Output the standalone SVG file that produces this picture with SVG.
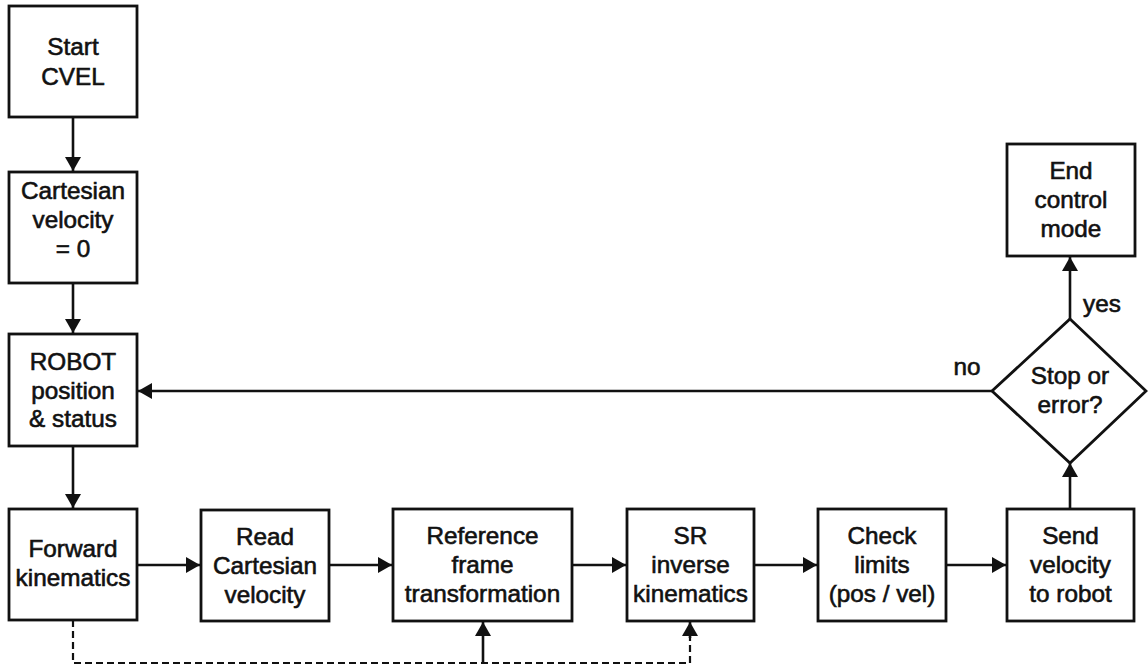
<svg xmlns="http://www.w3.org/2000/svg" width="1148" height="667" viewBox="0 0 1148 667">
  <style>
    .box { fill: #ffffff; stroke: #111111; stroke-width: 2.8; }
    .lbl { font-family: "Liberation Sans", Arial, sans-serif; font-size: 24.3px; fill: #111111; stroke: #111111; stroke-width: 0.6; text-anchor: middle; }
    .edge { fill: none; stroke: #111111; stroke-width: 2.6; }
    .dash { fill: none; stroke: #111111; stroke-width: 2.2; stroke-dasharray: 7 4; }
  </style>
  <defs>
    <marker id="arrow" markerUnits="userSpaceOnUse" markerWidth="15" markerHeight="16" refX="14" refY="8" orient="auto">
      <path d="M0,0 L14,8 L0,16 z" fill="#111111"/>
    </marker>
  </defs>
  <rect width="1148" height="667" fill="#ffffff"/>

  <!-- connectors -->
  <g id="connectors">
    <path class="edge" d="M73,117 V171" marker-end="url(#arrow)"/>
    <path class="edge" d="M73,283 V333" marker-end="url(#arrow)"/>
    <path class="edge" d="M73,446 V508" marker-end="url(#arrow)"/>
    <path class="edge" d="M137,565 H200" marker-end="url(#arrow)"/>
    <path class="edge" d="M329,565 H392" marker-end="url(#arrow)"/>
    <path class="edge" d="M572,565 H626" marker-end="url(#arrow)"/>
    <path class="edge" d="M754,565 H817" marker-end="url(#arrow)"/>
    <path class="edge" d="M946,565 H1006" marker-end="url(#arrow)"/>
    <path class="edge" d="M1070,509 V463" marker-end="url(#arrow)"/>
    <path class="edge" d="M1070,319 V257" marker-end="url(#arrow)"/>
    <path class="edge" d="M992,391 H138" marker-end="url(#arrow)"/>
    <path class="dash" d="M73,620 V663 H690 V637"/>
    <path class="edge" d="M690,638 V622" marker-end="url(#arrow)"/>
    <path class="edge" d="M483,663 V622" marker-end="url(#arrow)"/>
    <text class="lbl" x="1102" y="312">yes</text>
    <text class="lbl" x="967" y="375">no</text>
  </g>

  <g id="start">
    <rect class="box" x="9" y="6" width="128" height="111"/>
    <text class="lbl" x="73" y="55">Start</text>
    <text class="lbl" x="73" y="85">CVEL</text>
  </g>

  <g id="cartesian-zero">
    <rect class="box" x="9" y="172" width="128" height="111"/>
    <text class="lbl" x="73" y="199">Cartesian</text>
    <text class="lbl" x="73" y="228">velocity</text>
    <text class="lbl" x="73" y="257">= 0</text>
  </g>

  <g id="robot-status">
    <rect class="box" x="9" y="334" width="128" height="112"/>
    <text class="lbl" x="73" y="370">ROBOT</text>
    <text class="lbl" x="73" y="398.5">position</text>
    <text class="lbl" x="73" y="427">&amp; status</text>
  </g>

  <g id="forward-kinematics">
    <rect class="box" x="9" y="509" width="128" height="111"/>
    <text class="lbl" x="73" y="557">Forward</text>
    <text class="lbl" x="73" y="586">kinematics</text>
  </g>

  <g id="read-velocity">
    <rect class="box" x="201" y="510" width="128" height="111"/>
    <text class="lbl" x="265" y="545">Read</text>
    <text class="lbl" x="265" y="574">Cartesian</text>
    <text class="lbl" x="265" y="603">velocity</text>
  </g>

  <g id="frame-transform">
    <rect class="box" x="393" y="509" width="179" height="112"/>
    <text class="lbl" x="482.5" y="544">Reference</text>
    <text class="lbl" x="482.5" y="573">frame</text>
    <text class="lbl" x="482.5" y="602">transformation</text>
  </g>

  <g id="inverse-kinematics">
    <rect class="box" x="627" y="509" width="127" height="112"/>
    <text class="lbl" x="690.5" y="544">SR</text>
    <text class="lbl" x="690.5" y="573">inverse</text>
    <text class="lbl" x="690.5" y="602">kinematics</text>
  </g>

  <g id="check-limits">
    <rect class="box" x="818" y="509" width="128" height="112"/>
    <text class="lbl" x="882" y="544">Check</text>
    <text class="lbl" x="882" y="573">limits</text>
    <text class="lbl" x="882" y="602">(pos / vel)</text>
  </g>

  <g id="send-velocity">
    <rect class="box" x="1007" y="509" width="127" height="112"/>
    <text class="lbl" x="1070.5" y="544">Send</text>
    <text class="lbl" x="1070.5" y="573">velocity</text>
    <text class="lbl" x="1070.5" y="602">to robot</text>
  </g>

  <g id="stop-decision">
    <polygon class="box" points="1070,319 1146,391 1070,463 992,391"/>
    <text class="lbl" x="1070" y="384">Stop or</text>
    <text class="lbl" x="1070" y="413">error?</text>
  </g>

  <g id="end">
    <rect class="box" x="1007" y="144" width="128" height="112"/>
    <text class="lbl" x="1071" y="179">End</text>
    <text class="lbl" x="1071" y="208">control</text>
    <text class="lbl" x="1071" y="237">mode</text>
  </g>
</svg>
